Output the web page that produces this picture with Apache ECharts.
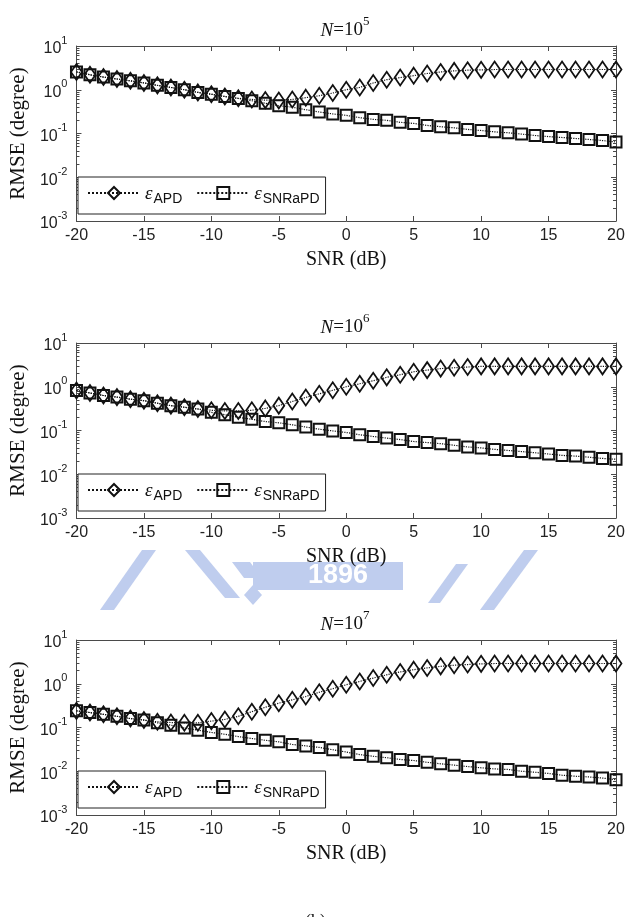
<!DOCTYPE html>
<html>
<head>
<meta charset="utf-8">
<script src="https://cdn.jsdelivr.net/npm/echarts@6/dist/echarts.min.js"></script>
<style>
html,body{margin:0;padding:0;background:#fff;}
#main{width:630px;height:917px;}
</style>
</head>
<body>
<div id="main"></div>
<script>
// SNR (dB) on the x axis
var snrDb = [-20,-19,-18,-17,-16,-15,-14,-13,-12,-11,-10,-9,-8,-7,-6,-5,-4,-3,-2,-1,0,1,2,3,4,5,6,7,8,9,10,11,12,13,14,15,16,17,18,19,20];

// N = 10^5
var apdN5 = [2.55,2.2,1.95,1.76,1.6,1.43,1.26,1.13,1.0,0.87,0.79,0.70,0.64,0.60,0.58,0.57,0.60,0.66,0.73,0.84,1.0,
  1.13,1.43,1.70,1.9,2.1,2.35,2.55,2.7,2.8,2.85,2.9,2.9,2.9,2.9,2.9,2.9,2.9,2.9,2.9,2.9];
var snrapdN5 = [2.55,2.2,1.95,1.76,1.6,1.43,1.26,1.13,1.0,0.87,0.79,0.70,0.63,0.56,0.49,0.43,0.40,0.35,0.31,0.28,0.26,
  0.23,0.21,0.20,0.18,0.17,0.153,0.143,0.135,0.124,0.117,0.109,0.104,0.097,0.090,0.085,0.081,0.077,0.073,0.069,0.064];

// N = 10^6
var apdN6 = [0.82,0.72,0.63,0.58,0.52,0.48,0.42,0.37,0.34,0.31,0.29,0.28,0.28,0.29,0.32,0.37,0.46,0.57,0.69,0.83,1.0,
  1.17,1.37,1.64,1.88,2.2,2.4,2.6,2.72,2.82,2.92,2.92,2.92,2.92,2.92,2.92,2.92,2.92,2.92,2.92,2.92];
var snrapdN6 = [0.82,0.72,0.63,0.58,0.52,0.48,0.42,0.37,0.34,0.31,0.26,0.23,0.20,0.18,0.16,0.15,0.135,0.12,0.107,0.098,0.09,
  0.08,0.073,0.067,0.062,0.056,0.053,0.050,0.046,0.042,0.040,0.037,0.035,0.033,0.031,0.029,0.027,0.026,0.0245,0.023,0.022];

// N = 10^7
var apdN7 = [0.24,0.22,0.20,0.18,0.16,0.148,0.135,0.13,0.128,0.128,0.14,0.153,0.18,0.23,0.29,0.36,0.43,0.51,0.64,0.77,0.95,
  1.13,1.35,1.6,1.86,2.1,2.3,2.5,2.65,2.75,2.85,2.9,2.9,2.9,2.9,2.9,2.9,2.9,2.9,2.9,2.9];
var snrapdN7 = [0.24,0.22,0.20,0.18,0.16,0.148,0.128,0.113,0.097,0.087,0.077,0.070,0.062,0.056,0.051,0.047,0.041,0.038,0.035,0.031,0.0275,
  0.024,0.022,0.0204,0.0186,0.0176,0.016,0.0148,0.0138,0.0128,0.012,0.0113,0.011,0.010,0.0095,0.0089,0.0081,0.0077,0.0074,0.0070,0.0064];

var panelExp = ['5', '6', '7'];
var seriesNames = ['APD', 'SNRaPD'];

var panels = [
  {apd: apdN5, snrapd: snrapdN5},
  {apd: apdN6, snrapd: snrapdN6},
  {apd: apdN7, snrapd: snrapdN7}
];

var sans = 'Liberation Sans', serif = 'Liberation Serif';
var axisCol = '#4a4a4a';
var tops = [46, 343, 640];
var plotH = 175;

function pairs(vals) {
  return snrDb.map(function (x, i) { return [x, vals[i]]; });
}

// minor tick positions (2..9 in each decade), in log10 units
var minorVals = [];
for (var n = -3; n < 1; n++) {
  for (var k = 2; k < 10; k++) minorVals.push(n + Math.log10(k));
}

var grids = [], xAxes = [], yAxes = [], series = [], titles = [], legends = [];

panels.forEach(function (p, i) {
  var top = tops[i];
  grids.push({left: 65, right: 14, top: top, height: plotH});

  xAxes.push({
    gridIndex: i, type: 'value', min: -20, max: 20, interval: 5, position: 'bottom',
    name: 'SNR (dB)', nameLocation: 'middle', nameGap: 29,
    nameTextStyle: {fontFamily: serif, fontSize: 20, color: '#111'},
    axisLine: {onZero: false, lineStyle: {color: axisCol, width: 1}},
    axisTick: {inside: true, length: 5, lineStyle: {color: axisCol}},
    axisLabel: {fontFamily: sans, fontSize: 16, color: '#222', margin: 7},
    splitLine: {show: false}
  });
  xAxes.push({
    gridIndex: i, type: 'value', min: -20, max: 20, interval: 5, position: 'top',
    axisLine: {onZero: false, lineStyle: {color: axisCol, width: 1}},
    axisTick: {inside: true, length: 5, lineStyle: {color: axisCol}},
    axisLabel: {show: false},
    splitLine: {show: false}
  });

  yAxes.push({
    gridIndex: i, type: 'log', logBase: 10, min: 0.001, max: 10, position: 'left',
    name: 'RMSE (degree)', nameLocation: 'middle', nameGap: 43,
    nameTextStyle: {fontFamily: serif, fontSize: 21, color: '#111'},
    axisLine: {show: true, onZero: false, lineStyle: {color: axisCol, width: 1}},
    axisTick: {inside: true, length: 5, lineStyle: {color: axisCol}},
    axisLabel: {
      margin: 9,
      formatter: function (v) {
        var e = Math.round(Math.log10(v));
        return '{b|10}{p|' + e + '}';
      },
      rich: {
        b: {fontFamily: sans, fontSize: 16, color: '#222', verticalAlign: 'top', padding: [6, 0, 0, 0]},
        p: {fontFamily: sans, fontSize: 11, color: '#222', verticalAlign: 'top'}
      }
    },
    splitLine: {show: false}
  });
  yAxes.push({
    gridIndex: i, type: 'log', logBase: 10, min: 0.001, max: 10, position: 'right',
    axisLine: {show: true, onZero: false, lineStyle: {color: axisCol, width: 1}},
    axisTick: {inside: true, length: 5, lineStyle: {color: axisCol}},
    axisLabel: {show: false},
    splitLine: {show: false}
  });
  ['left', 'right'].forEach(function (pos) {
    yAxes.push({
      gridIndex: i, type: 'value', min: -3, max: 1, position: pos,
      axisLine: {show: false, onZero: false},
      axisTick: {show: true, inside: true, length: 3, customValues: minorVals, lineStyle: {color: axisCol}},
      axisLabel: {show: false},
      splitLine: {show: false}
    });
  });

  series.push({
    name: seriesNames[0], type: 'line', xAxisIndex: 2 * i, yAxisIndex: 4 * i,
    data: pairs(p.apd),
    symbol: 'diamond', symbolSize: [11, 16],
    itemStyle: {color: 'rgba(255,255,255,0)', borderColor: '#111', borderWidth: 1.8},
    lineStyle: {color: '#111', width: 1.2, type: 'dotted'},
    emphasis: {disabled: true}, z: 3
  });
  series.push({
    name: seriesNames[1], type: 'line', xAxisIndex: 2 * i, yAxisIndex: 4 * i,
    data: pairs(p.snrapd),
    symbol: 'rect', symbolSize: 11,
    itemStyle: {color: 'rgba(255,255,255,0)', borderColor: '#111', borderWidth: 2},
    lineStyle: {color: '#111', width: 1.2, type: 'dotted'},
    emphasis: {disabled: true}, z: 4
  });

  titles.push({
    text: '{i|N}{n|=10}{p|' + panelExp[i] + '}',
    left: 340, top: top - 36, textAlign: 'center',
    textStyle: {
      fontWeight: 'normal',
      rich: {
        i: {fontFamily: serif, fontStyle: 'italic', fontWeight: 'normal', fontSize: 19, color: '#111', verticalAlign: 'top', padding: [6, 0, 0, 0]},
        n: {fontFamily: serif, fontWeight: 'normal', fontSize: 19, color: '#111', verticalAlign: 'top', padding: [6, 0, 0, 0]},
        p: {fontFamily: serif, fontWeight: 'normal', fontSize: 13, color: '#111', verticalAlign: 'top'}
      }
    }
  });

  legends.push({
    left: 78, top: top + 131, orient: 'horizontal', selectedMode: false,
    data: seriesNames,
    itemWidth: 52, itemHeight: 15, itemGap: 14,
    padding: [7, 6, 8, 9],
    borderColor: '#222', borderWidth: 1, backgroundColor: '#fff',
    formatter: function (name) { return '{e|ε}{s|' + name + '}'; },
    textStyle: {
      rich: {
        e: {fontFamily: serif, fontStyle: 'italic', fontSize: 19, color: '#111', verticalAlign: 'top', lineHeight: 18},
        s: {fontFamily: sans, fontSize: 14, color: '#111', verticalAlign: 'top', padding: [8, 0, 0, 1], lineHeight: 16}
      }
    }
  });
});

var wm = '#bfcdee';
var option = {
  animation: false,
  backgroundColor: '#fff',
  title: titles,
  legend: legends,
  grid: grids,
  xAxis: xAxes,
  yAxis: yAxes,
  series: series,
  graphic: [
    // faint logo watermark between the second and third panels
    {type: 'polygon', z: -10, shape: {points: [[100, 610], [114, 610], [156, 550], [142, 550]]}, style: {fill: wm}},
    {type: 'polygon', z: -10, shape: {points: [[185, 550], [200, 550], [240, 598], [225, 598]]}, style: {fill: wm}},
    {type: 'polygon', z: -10, shape: {points: [[232, 562], [250, 562], [262, 578], [244, 578]]}, style: {fill: wm}},
    {type: 'polygon', z: -10, shape: {points: [[253, 585], [262, 595], [253, 605], [244, 595]]}, style: {fill: wm}},
    {type: 'rect', z: -10, shape: {x: 253, y: 562, width: 150, height: 28}, style: {fill: wm}},
    {type: 'text', z: -9, left: 308, top: 562, style: {text: '1896', fill: '#fff', font: 'bold 27px Liberation Sans'}},
    {type: 'polygon', z: -10, shape: {points: [[428, 603], [440, 603], [468, 564], [456, 564]]}, style: {fill: wm}},
    {type: 'polygon', z: -10, shape: {points: [[480, 610], [494, 610], [538, 550], [524, 550]]}, style: {fill: wm}},
    // panel tag, mostly cut off by the page edge
    {type: 'text', left: 305, top: 913, style: {text: '(b)', fill: '#111', font: '18px Liberation Serif'}}
  ]
};

var chart = echarts.init(document.getElementById('main'));
chart.setOption(option);
</script>
</body>
</html>
